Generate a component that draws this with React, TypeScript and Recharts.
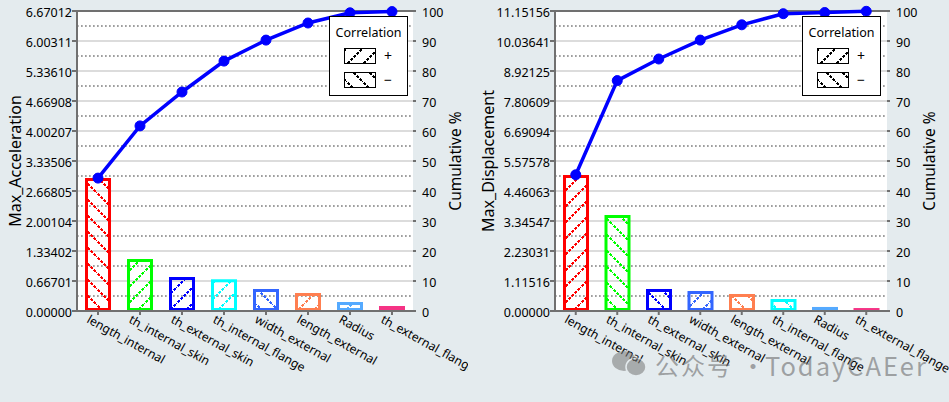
import React from 'react';
import {
  ComposedChart,
  Bar,
  Line,
  XAxis,
  YAxis,
  CartesianGrid,
  ReferenceLine
} from 'recharts';

const BG = '#e4ebee';
const AXIS = '#707070';
const FONT = '"Noto Sans", sans-serif';

const accelNames = ['length_internal', 'th_internal_skin', 'th_external_skin', 'th_internal_flange', 'width_external', 'length_external', 'Radius', 'th_external_flange'];
const accelValues = [2.957, 1.156, 0.756, 0.705, 0.489, 0.4, 0.2, 0.111];
const accelPct = [44.3, 61.7, 73, 83.3, 90.3, 96, 99.4, 99.8];
const accelSigns = [-1, 1, 1, 1, -1, 1, 1, 1];
const accelColors = ['#ff0000', '#00ff00', '#0000ff', '#00ffff', '#3366ff', '#ff7f50', '#55aaff', '#f53385'];
const accelTicks = [0, 0.66701, 1.33402, 2.00104, 2.66805, 3.33506, 4.00207, 4.66908, 5.3361, 6.00311, 6.67012];

const dispNames = ['length_internal', 'th_internal_skin', 'th_external_skin', 'width_external', 'length_external', 'th_internal_flange', 'Radius', 'th_external_flange'];
const dispValues = [5.055, 3.568, 0.818, 0.743, 0.632, 0.446, 0.15, 0.11];
const dispPct = [45.4, 76.8, 84, 90.3, 95.4, 99.1, 99.5, 99.9];
const dispSigns = [1, -1, -1, 1, -1, -1, 1, 1];
const dispColors = ['#ff0000', '#00ff00', '#0000ff', '#3366ff', '#ff7f50', '#00ffff', '#55aaff', '#f53385'];
const dispTicks = [0, 1.11516, 2.23031, 3.34547, 4.46063, 5.57578, 6.69094, 7.80609, 8.92125, 10.03641, 11.15156];

const pctTicks = [0, 10, 20, 30, 40, 50, 60, 70, 80, 90, 100];
const pctMinor = [5, 15, 25, 35, 45, 55, 65, 75, 85, 95];

const Hatch = ({ id, color, sign }: { id: string; color: string; sign: number }) => (
  <pattern id={id} width={16} height={16} patternUnits="userSpaceOnUse">
    <path
      d={sign > 0 ? 'M-1 17L17 -1' : 'M-1 -1L17 17'}
      stroke={color}
      strokeWidth={2}
      strokeDasharray="2.8 1.4"
      shapeRendering="crispEdges"
      fill="none"
    />
  </pattern>
);

const HatchBar = (props: any) => {
  const { x, y, width, height, index, prefix, colors } = props;
  const sw = 3;
  // too short for an outline, the reference just shows a solid strip
  if (height <= sw * 2) {
    return <rect x={x} y={y} width={width} height={height} fill={colors[index]} />;
  }
  return (
    <rect
      x={x + sw / 2}
      y={y + sw / 2}
      width={width - sw}
      height={height - sw}
      fill={`url(#${prefix}-${index})`}
      stroke={colors[index]}
      strokeWidth={sw}
    />
  );
};

const SlantTick = (props: any) => {
  const { x, y, payload } = props;
  const tx = x - 12;
  const ty = y + 5;
  return (
    <text x={tx} y={ty} transform={`rotate(29 ${tx} ${ty})`} fontSize={12.2} fontFamily={FONT} fill="#000">
      {payload.value}
    </text>
  );
};

const CorrelationBox = ({ left, prefix }: { left: number; prefix: string }) => (
  <div style={{ position: 'absolute', left, top: 16, width: 77, height: 78, background: '#fff', border: '1px solid #000', fontFamily: FONT, fontSize: 12.5, color: '#000' }}>
    <div style={{ textAlign: 'center', marginTop: 7, lineHeight: '17px' }}>Correlation</div>
    <svg width={77} height={54} style={{ position: 'absolute', left: 0, top: 0, overflow: 'visible' }}>
      <defs>
        <Hatch id={`${prefix}-plus`} color="#000" sign={1} />
        <Hatch id={`${prefix}-minus`} color="#000" sign={-1} />
      </defs>
      <rect x={14.5} y={31.5} width={31} height={15} fill={`url(#${prefix}-plus)`} stroke="#000" />
      <rect x={14.5} y={55.5} width={31} height={15} fill={`url(#${prefix}-minus)`} stroke="#000" />
      <text x={58} y={44} textAnchor="middle" fontSize={14} fontFamily={FONT} fill="#000">+</text>
      <text x={58} y={68} textAnchor="middle" fontSize={14} fontFamily={FONT} fill="#000">−</text>
    </svg>
  </div>
);

const ParetoPanel = ({ left, width, marginLeft, marginRight, titleOffset, pctOffset, prefix, title, names, values, pct, colors, signs, ticks }: any) => {
  const rows = names.map((name: string, i: number) => ({ name, value: values[i], pct: pct[i] }));
  return (
    <div style={{ position: 'absolute', left, top: 0 }}>
      <ComposedChart width={width} height={402} data={rows} margin={{ top: 11, right: 0, bottom: 0, left: 0 }} barCategoryGap={0}>
        <defs>
          {names.map((_n: string, i: number) => (
            <Hatch key={i} id={`${prefix}-${i}`} color={colors[i]} sign={signs[i]} />
          ))}
        </defs>
        <CartesianGrid yAxisId="pct" vertical={false} horizontalValues={pctTicks} stroke="#dcdcdc" strokeWidth={2} fill="#ffffff" />
        <CartesianGrid yAxisId="pct" vertical={false} horizontalValues={pctMinor} stroke="#808080" strokeWidth={1.5} strokeDasharray="1.7 2.3" />
        <XAxis
          dataKey="name"
          interval={0}
          height={91}
          tick={<SlantTick />}
          tickSize={4}
          tickLine={{ stroke: AXIS, strokeWidth: 2 }}
          axisLine={{ stroke: AXIS, strokeWidth: 2 }}
        />
        <YAxis
          yAxisId="val"
          width={marginLeft}
          domain={[0, ticks[ticks.length - 1]]}
          ticks={ticks}
          interval={0}
          tickFormatter={(v: number) => v.toFixed(5)}
          tick={{ fontSize: 12.5, fontFamily: FONT, fill: '#000', dy: 1.5 }}
          tickSize={5}
          tickMargin={0}
          tickLine={{ stroke: AXIS, strokeWidth: 2 }}
          axisLine={{ stroke: AXIS, strokeWidth: 2 }}
          label={{ value: title, angle: -90, position: 'insideLeft', offset: titleOffset, style: { fontSize: 16, fontFamily: FONT, fill: '#000', textAnchor: 'middle' } }}
        />
        <YAxis
          yAxisId="pct"
          orientation="right"
          width={marginRight}
          domain={[0, 100]}
          ticks={pctTicks}
          interval={0}
          tick={{ fontSize: 12.5, fontFamily: FONT, fill: '#000', dy: 1.5 }}
          tickSize={3}
          tickMargin={6}
          tickLine={{ stroke: AXIS, strokeWidth: 2 }}
          axisLine={false}
          label={{ value: 'Cumulative %', angle: -90, position: 'insideRight', offset: pctOffset, style: { fontSize: 15.5, fontFamily: FONT, fill: '#000', textAnchor: 'middle' } }}
        />
        <ReferenceLine yAxisId="pct" y={100} stroke={AXIS} strokeWidth={2} />
        <Bar
          yAxisId="val"
          dataKey="value"
          barSize={26}
          isAnimationActive={false}
          shape={(p: any) => <HatchBar {...p} prefix={prefix} colors={colors} />}
        />
        <Line
          yAxisId="pct"
          dataKey="pct"
          stroke="#0000ff"
          strokeWidth={3.5}
          dot={{ r: 5, fill: '#0000ff', stroke: '#0000ff', strokeWidth: 1 }}
          isAnimationActive={false}
        />
      </ComposedChart>
    </div>
  );
};

const App = () => (
  <div style={{ position: 'absolute', left: 0, top: 0, width: 949, height: 402, background: BG, overflow: 'hidden' }}>
    <ParetoPanel left={0} width={468} marginLeft={77} marginRight={55} titleOffset={15} pctOffset={13} prefix="acc" title="Max_Acceleration" names={accelNames} values={accelValues} pct={accelPct} colors={accelColors} signs={accelSigns} ticks={accelTicks} />
    <ParetoPanel left={468} width={481} marginLeft={87} marginRight={62} titleOffset={20} pctOffset={20} prefix="dis" title="Max_Displacement" names={dispNames} values={dispValues} pct={dispPct} colors={dispColors} signs={dispSigns} ticks={dispTicks} />
    <CorrelationBox left={329} prefix="lega" />
    <CorrelationBox left={802} prefix="legb" />
    <svg width={36} height={28} style={{ position: 'absolute', left: 611, top: 350, opacity: 0.55 }}>
      <ellipse cx={13} cy={11} rx={12} ry={10} fill="#777" />
      <ellipse cx={25} cy={17} rx={10} ry={9} fill="#777" stroke={BG} strokeWidth={1.5} />
    </svg>
    <div style={{ position: 'absolute', left: 655, top: 348, fontFamily: '"Noto Sans CJK SC", sans-serif', fontSize: 24, letterSpacing: 2, lineHeight: '34px', whiteSpace: 'nowrap', color: 'rgba(110,110,110,0.6)' }}>
      公众号
      <span style={{ position: 'absolute', left: 86 }}>·</span>
      <span style={{ position: 'absolute', left: 110, fontSize: 25.5 }}>TodayCAEer</span>
    </div>
  </div>
);

export default App;
